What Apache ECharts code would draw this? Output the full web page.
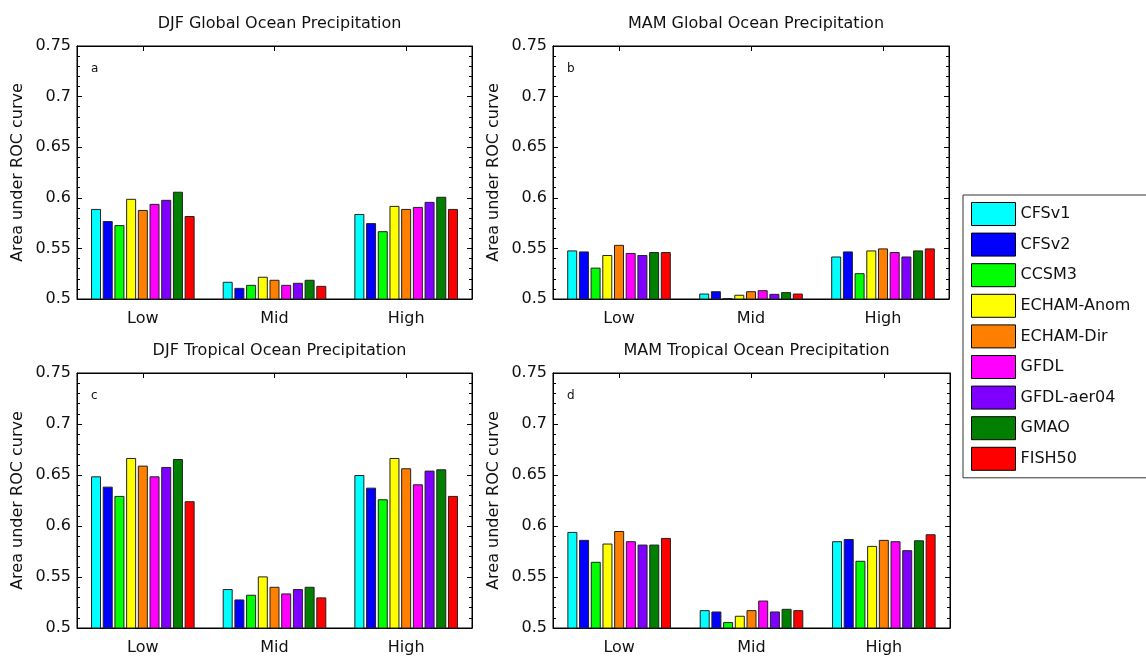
<!DOCTYPE html>
<html>
<head>
<meta charset="utf-8">
<script src="https://cdn.jsdelivr.net/npm/echarts@6/dist/echarts.min.js"></script>
<style>html,body{margin:0;padding:0;background:#fff}#c{width:1146px;height:657px}</style>
</head>
<body>
<div id="c"></div>
<script>
const categories = ['Low', 'Mid', 'High'];
const models = ['CFSv1', 'CFSv2', 'CCSM3', 'ECHAM-Anom', 'ECHAM-Dir', 'GFDL', 'GFDL-aer04', 'GMAO', 'FISH50'];
const colors = ['#00FFFF', '#0000FF', '#00FF00', '#FFFF00', '#FF8000', '#FF00FF', '#8000FF', '#007F00', '#FF0000'];
const yTicks = [0.5, 0.55, 0.6, 0.65, 0.7, 0.75];
const panelTitles = ['DJF Global Ocean Precipitation', 'MAM Global Ocean Precipitation', 'DJF Tropical Ocean Precipitation', 'MAM Tropical Ocean Precipitation'];
const panelLetters = ['a', 'b', 'c', 'd'];

// values per model: [Low, Mid, High]
const djfGlobal = [
  [0.589, 0.517, 0.584],
  [0.577, 0.511, 0.575],
  [0.573, 0.514, 0.567],
  [0.599, 0.522, 0.592],
  [0.588, 0.519, 0.589],
  [0.594, 0.514, 0.591],
  [0.598, 0.516, 0.596],
  [0.606, 0.519, 0.601],
  [0.582, 0.513, 0.589]
];
const mamGlobal = [
  [0.548, 0.5054, 0.542],
  [0.547, 0.5077, 0.547],
  [0.531, 0.501, 0.5255],
  [0.5435, 0.5042, 0.548],
  [0.5535, 0.5077, 0.550],
  [0.5455, 0.5087, 0.5464],
  [0.5435, 0.5051, 0.542],
  [0.5464, 0.5068, 0.548],
  [0.5464, 0.5054, 0.550]
];
const djfTropical = [
  [0.6487, 0.5382, 0.650],
  [0.6386, 0.528, 0.6376],
  [0.6295, 0.5326, 0.6262],
  [0.6667, 0.5506, 0.6667],
  [0.6592, 0.5404, 0.6566],
  [0.6487, 0.5339, 0.6409],
  [0.6579, 0.5382, 0.6543],
  [0.6657, 0.5404, 0.6556],
  [0.6243, 0.530, 0.6295]
];
const mamTropical = [
  [0.5942, 0.5175, 0.5851],
  [0.5864, 0.5162, 0.5873],
  [0.5649, 0.5058, 0.5659],
  [0.5828, 0.512, 0.5805],
  [0.5951, 0.5175, 0.5864],
  [0.5851, 0.5269, 0.5851],
  [0.5818, 0.5162, 0.5763],
  [0.5818, 0.5188, 0.586],
  [0.5883, 0.5175, 0.5919]
];
const panelData = [djfGlobal, mamGlobal, djfTropical, mamTropical];

const FONT = 'DejaVu Sans';
const grids = [
  {left: 77, top: 46, width: 395, height: 253},
  {left: 553, top: 46, width: 396, height: 253},
  {left: 77, top: 373, width: 395, height: 255},
  {left: 553, top: 373, width: 397, height: 255}
];

const option = {
  animation: false,
  backgroundColor: '#fff',
  textStyle: {fontFamily: FONT},
  title: [],
  grid: [],
  xAxis: [],
  yAxis: [],
  series: [],
  legend: {
    data: models,
    orient: 'vertical',
    left: 963,
    top: 195,
    padding: [7, 40, 7, 8],
    itemWidth: 44,
    itemHeight: 23,
    itemGap: 6.6,
    borderColor: '#333',
    borderWidth: 1,
    icon: 'rect',
    itemStyle: {borderColor: '#000', borderWidth: 1},
    textStyle: {fontFamily: FONT, fontSize: 16, color: '#111'},
    selectedMode: false
  }
};

grids.forEach((g, i) => {
  option.grid.push(Object.assign({show: true, borderColor: '#000', borderWidth: 1, containLabel: false}, g));
  option.title.push({
    text: panelTitles[i],
    left: g.left + g.width / 2,
    textAlign: 'center',
    top: g.top - 35,
    textStyle: {fontFamily: FONT, fontSize: 16, fontWeight: 'normal', color: '#111'}
  });
  option.title.push({
    text: panelLetters[i],
    left: g.left + 9,
    top: g.top + 12,
    textStyle: {fontFamily: FONT, fontSize: 12, fontWeight: 'normal', color: '#111'}
  });
  const axisCommon = {
    type: 'category', data: categories, gridIndex: i,
    axisLine: {show: true, lineStyle: {color: '#000'}},
    axisTick: {show: true, inside: true, alignWithLabel: true, length: 5, lineStyle: {color: '#000'}},
    splitLine: {show: false}
  };
  option.xAxis.push(Object.assign({}, axisCommon, {
    position: 'bottom',
    axisLabel: {fontFamily: FONT, fontSize: 16, color: '#111', margin: 12}
  }));
  option.xAxis.push(Object.assign({}, axisCommon, {
    position: 'top',
    axisLabel: {show: false}
  }));
  const yCommon = {
    type: 'value', gridIndex: i, min: yTicks[0], max: yTicks[yTicks.length - 1], interval: 0.05,
    axisLine: {show: true, lineStyle: {color: '#000'}},
    axisTick: {show: true, inside: true, length: 5, lineStyle: {color: '#000'}},
    minorTick: {show: true, splitNumber: 5, length: 3, lineStyle: {color: '#000'}},
    splitLine: {show: false},
    minorSplitLine: {show: false}
  };
  option.yAxis.push(Object.assign({}, yCommon, {
    position: 'left',
    name: 'Area under ROC curve',
    nameLocation: 'middle',
    nameGap: 51,
    nameTextStyle: {fontFamily: FONT, fontSize: 16, color: '#111'},
    axisLabel: {fontFamily: FONT, fontSize: 16, color: '#111', margin: 6,
      formatter: v => String(Math.round(v * 100) / 100)}
  }));
  option.yAxis.push(Object.assign({}, yCommon, {
    position: 'right',
    axisLabel: {show: false}
  }));
  panelData[i].forEach((vals, m) => {
    option.series.push({
      type: 'bar',
      name: models[m],
      xAxisIndex: i * 2,
      yAxisIndex: i * 2,
      data: vals,
      barWidth: 10,
      barGap: '17%',
      itemStyle: {color: colors[m], borderColor: '#222', borderWidth: 1},
      emphasis: {disabled: true}
    });
  });
});

const chart = echarts.init(document.getElementById('c'), null, {renderer: 'canvas'});
chart.setOption(option);
</script>
</body>
</html>
